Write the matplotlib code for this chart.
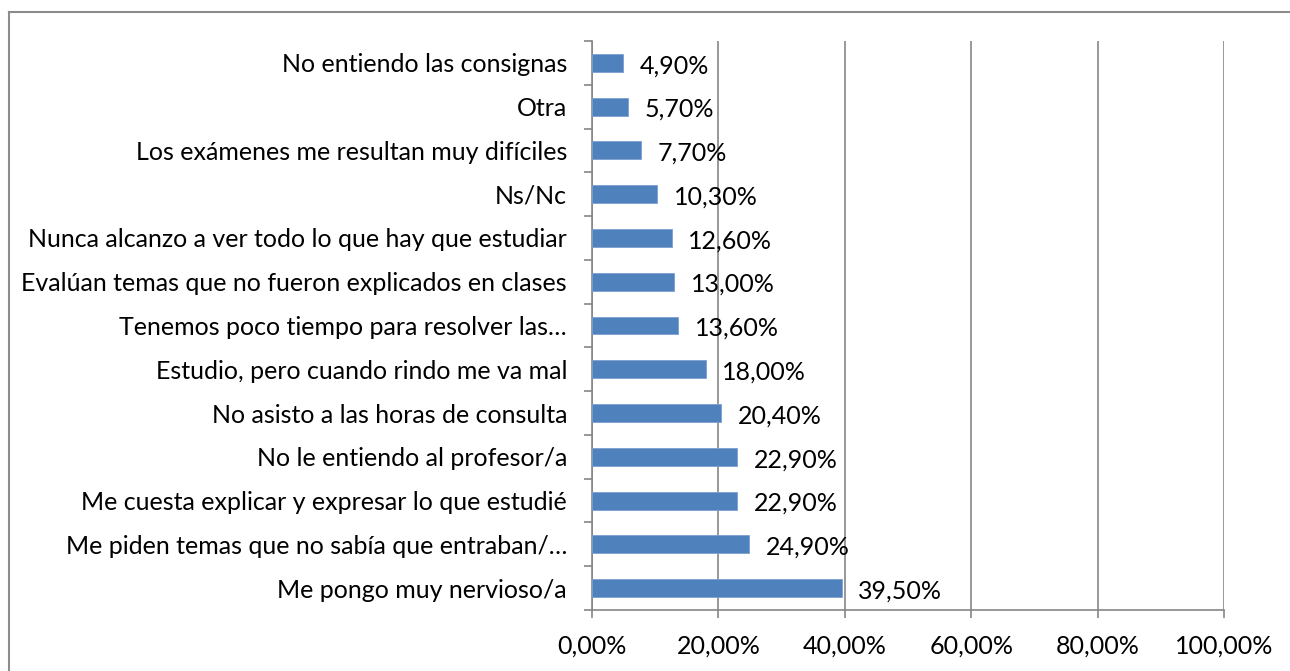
import matplotlib
matplotlib.use("Agg")
import matplotlib.pyplot as plt
from matplotlib.lines import Line2D
import numpy as np

plt.rcParams['font.family'] = ['Lato', 'DejaVu Sans']

# bottom to top
categories = [
    "Me pongo muy nervioso/a",
    "Me piden temas que no sabía que entraban/…",
    "Me cuesta explicar y expresar lo que estudié",
    "No le entiendo al profesor/a",
    "No asisto a las horas de consulta",
    "Estudio, pero cuando rindo me va mal",
    "Tenemos poco tiempo para resolver las…",
    "Evalúan temas que no fueron explicados en clases",
    "Nunca alcanzo a ver todo lo que hay que estudiar",
    "Ns/Nc",
    "Los exámenes me resultan muy difíciles",
    "Otra",
    "No entiendo las consignas",
]
values = [39.5, 24.9, 22.9, 22.9, 20.4, 18.0, 13.6, 13.0, 12.6, 10.3, 7.7, 5.7, 4.9]
xticks = [0, 20, 40, 60, 80, 100]

W, H = 1290, 671
fig = plt.figure(figsize=(W / 100, H / 100), dpi=100)
ax = fig.add_axes([592 / W, (H - 610) / H, (1224 - 592) / W, (610 - 41) / H])

y = np.arange(len(categories))
ax.barh(y, values, height=0.41, color='#4F81BD', edgecolor='#7A9FD0', linewidth=0.6, zorder=3)

for yi, v in zip(y, values):
    ax.annotate(f"{v:.2f}%".replace('.', ','), (v, yi), xytext=(12, -2),
                textcoords='offset points', ha='left', va='center', fontsize=18, zorder=4)

ax.set_xlim(0, 100)
ax.set_ylim(-0.5, len(categories) - 0.5)
ax.set_xticks(xticks)
ax.set_xticklabels([f"{t:.2f}%".replace('.', ',') for t in xticks], fontsize=18)
ax.set_yticks(y)
ax.set_yticklabels(categories, fontsize=18)
ax.set_yticks(np.arange(len(categories) + 1) - 0.5, minor=True)

ax.tick_params(axis='y', which='major', length=0, pad=18)
ax.tick_params(axis='y', which='minor', length=6, width=1.2, color='#868686')
ax.tick_params(axis='x', length=6, width=1.2, color='#868686', pad=12)

ax.grid(axis='x', color='#868686', linewidth=1.2, zorder=0)
for s in ['top', 'right']:
    ax.spines[s].set_visible(False)
for s in ['left', 'bottom']:
    ax.spines[s].set_color('#868686')
    ax.spines[s].set_linewidth(1.2)

# outer chart border
top = 1 - 11.5 / H
left = 8.5 / W
fig.add_artist(Line2D([left, 1], [top, top], color='#8C8C8C', linewidth=1.5))
fig.add_artist(Line2D([left, left], [0, top], color='#8C8C8C', linewidth=1.5))

fig.savefig("out.png", dpi=100)
